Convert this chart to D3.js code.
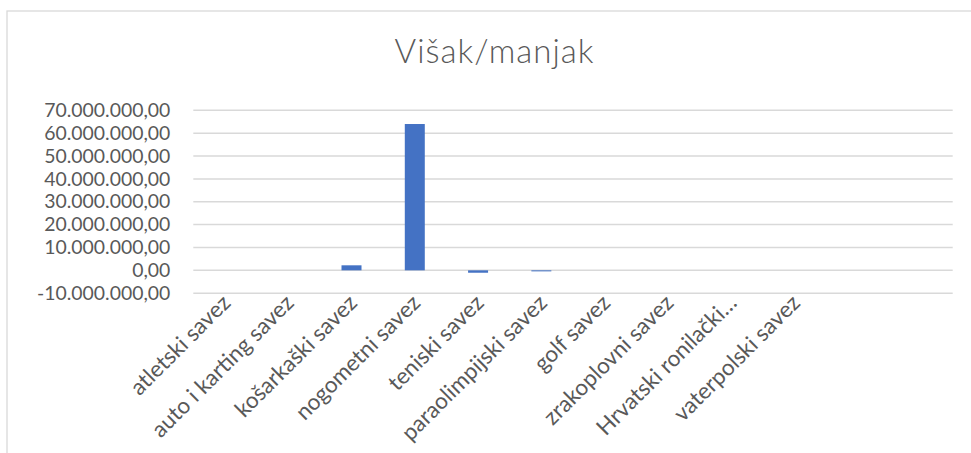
<!DOCTYPE html>
<html>
<head>
<meta charset="utf-8">
<script src="https://cdn.jsdelivr.net/npm/d3@7"></script>
<style>
  body { margin: 0; background: #fff; }
  text { font-family: Lato, "Open Sans", sans-serif; fill: #595959; }
</style>
</head>
<body>
<div id="chart"></div>
<script>
// chart data
var categories = ["atletski savez", "auto i karting savez", "košarkaški savez", "nogometni savez",
                  "teniski savez", "paraolimpijski savez", "golf savez", "zrakoplovni savez",
                  "Hrvatski ronilački…", "vaterpolski savez", "", ""];
var values = [0, 0, 2200000, 64000000, -1050000, -450000, 0, 0, 0, 0, null, null];
var yTicks = [-10000000, 0, 10000000, 20000000, 30000000, 40000000, 50000000, 60000000, 70000000];
var title = "Višak/manjak";

var W = 971, H = 453;
var margin = {top: 110.3, bottom: 159.8, left: 193.3, right: 18.3};

var svg = d3.select("#chart").append("svg")
    .attr("width", W)
    .attr("height", H);

// chart area border (runs past the right/bottom edge of the window)
svg.append("rect")
    .attr("x", 7).attr("y", 11)
    .attr("width", 990).attr("height", 460)
    .attr("fill", "none")
    .attr("stroke", "#d9d9d9")
    .attr("stroke-width", 1.3);

svg.append("text")
    .attr("x", 494.5)
    .attr("y", 63)
    .attr("text-anchor", "middle")
    .style("font-size", "33px")
    .style("font-weight", 300)
    .style("letter-spacing", "1px")
    .text(title);

var x = d3.scaleBand()
    .domain(categories.map(function(d, i){ return i; }))
    .range([margin.left, W - margin.right])
    .paddingInner(0.684)
    .paddingOuter(0.342);

var y = d3.scaleLinear()
    .domain([-10000000, 70000000])
    .range([H - margin.bottom, margin.top]);

var hr = d3.formatLocale({decimal: ",", thousands: ".", grouping: [3], currency: ["", ""], minus: "-"});
var fmt = hr.format(",.2f");

// gridlines
svg.append("g")
    .selectAll("line")
    .data(yTicks)
    .join("line")
    .attr("x1", margin.left)
    .attr("x2", W - margin.right)
    .attr("y1", function(d){ return y(d); })
    .attr("y2", function(d){ return y(d); })
    .attr("stroke", "#d9d9d9")
    .attr("stroke-width", 1.5);

// y axis labels
var yAxis = svg.append("g")
    .attr("transform", "translate(" + margin.left + ",0)")
    .call(d3.axisLeft(y).tickValues(yTicks).tickFormat(fmt).tickSize(0).tickPadding(23));
yAxis.select(".domain").remove();
yAxis.selectAll("text")
    .attr("fill", "#595959")
    .style("font-family", "Lato, sans-serif")
    .style("font-size", "19.4px");

// bars
svg.append("g")
    .selectAll("rect")
    .data(values.map(function(v, i){ return {i: i, v: v}; }).filter(function(d){ return d.v != null; }))
    .join("rect")
    .attr("x", function(d){ return x(d.i); })
    .attr("width", x.bandwidth())
    .attr("y", function(d){ return y(Math.max(0, d.v)); })
    .attr("height", function(d){ return Math.abs(y(d.v) - y(0)); })
    .attr("fill", "#4472c4");

// category labels, rotated
var xAxisY = y(-10000000);
svg.append("g")
    .selectAll("text")
    .data(categories)
    .join("text")
    .attr("transform", function(d, i){
        return "translate(" + (x(i) + x.bandwidth() / 2 + 7) + "," + (xAxisY + 11) + ") rotate(-45)";
    })
    .attr("text-anchor", "end")
    .style("font-size", "22.5px")
    .text(function(d){ return d; });
</script>
</body>
</html>
